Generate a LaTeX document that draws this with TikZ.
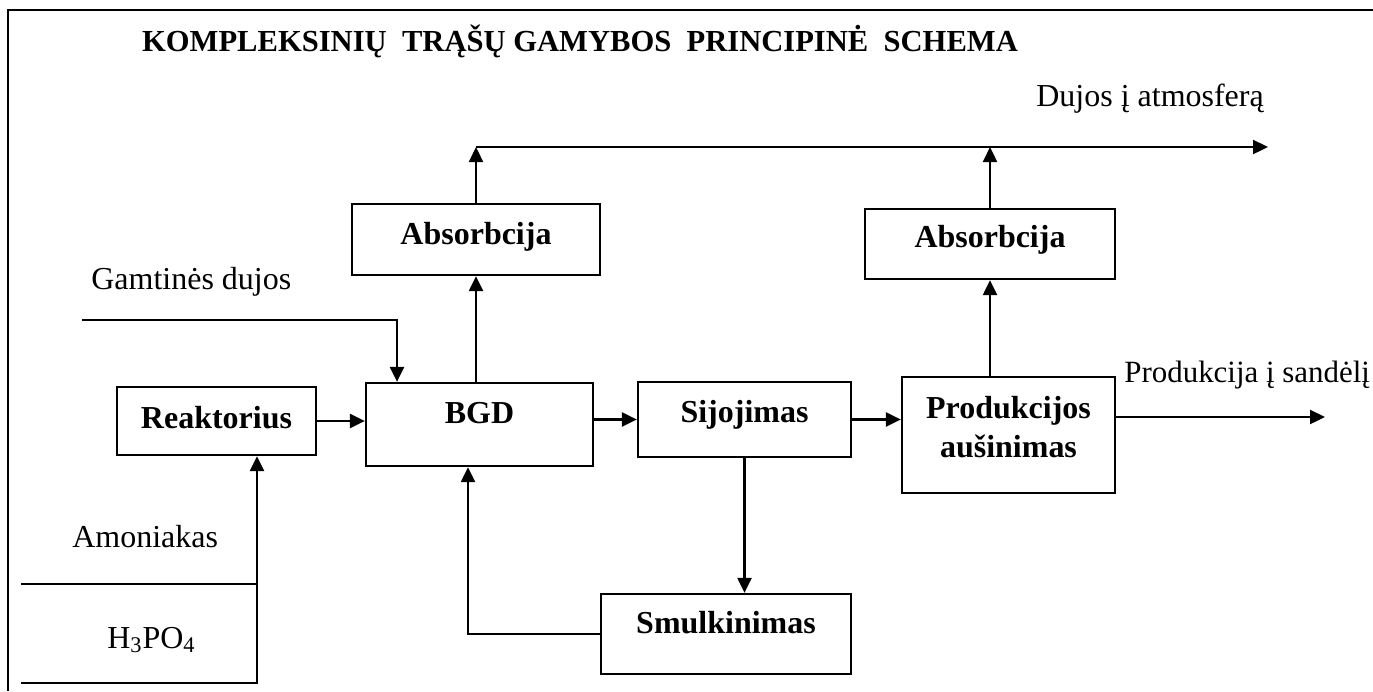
\documentclass[tikz,border=0pt]{standalone}
\usepackage{fontspec}
\setmainfont{Liberation Serif}
\usetikzlibrary{arrows.meta}

\begin{document}
\begin{tikzpicture}[
  every node/.style={
    font=\fontsize{18.2}{22}\selectfont, inner sep=0pt
  },
  unit/.style={
    draw, line width=1.3pt, minimum width=#1
  },
  utitle/.style={
    font=\fontsize{18.2}{22}\selectfont\bfseries, align=center
  },
  flow/.style={
    font=\fontsize{18.2}{22}\selectfont, anchor=base west
  },
  arr/.style={
    -{Triangle[length=3mm, width=2.8mm]}, line width=1.3pt
  },
  pipe/.style={
    line width=1.3pt
  }
]

\useasboundingbox (0,0) rectangle (27.46,-13.82);

% Frame and title
\draw[line width=1.4pt] (0.16,-13.82) -- (0.16,-0.2) -- (27.46,-0.2);
\node[utitle, font=\fontsize{17.4}{21}\selectfont\bfseries, anchor=base] (title) at (11.6,-1.02)
  {KOMPLEKSINIŲ~ TRĄŠŲ GAMYBOS~ PRINCIPINĖ~ SCHEMA};

% Units
\node[unit=3.98cm, minimum height=1.36cm] (reak) at (4.33,-8.42) {};
\node[utitle] (reaktxt) at ([yshift=0.7mm]reak.center) {Reaktorius};

\node[unit=4.54cm, minimum height=1.66cm] (bgd) at (9.59,-8.49) {};
\node[utitle] (bgdtxt) at ([yshift=2.3mm]bgd.center) {BGD};

\node[unit=4.26cm, minimum height=1.5cm] (sij) at (14.89,-8.39) {};
\node[utitle] (sijtxt) at ([yshift=0.9mm]sij.center) {Sijojimas};

\node[unit=4.26cm, minimum height=2.32cm] (prod) at (20.17,-8.7) {};
\node[utitle] (prodtxt) at ([yshift=1.6mm]prod.center) {Produkcijos\\aušinimas};

\node[unit=4.96cm, minimum height=1.42cm] (abs1) at (9.52,-4.79) {};
\node[utitle] (abs1txt) at ([yshift=0.5mm]abs1.center) {Absorbcija};

\node[unit=5cm, minimum height=1.4cm] (abs2) at (19.8,-4.88) {};
\node[utitle] (abs2txt) at ([yshift=0.8mm]abs2.center) {Absorbcija};

\node[unit=5cm, minimum height=1.6cm] (smul) at (14.52,-12.68) {};
\node[utitle] (smultxt) at ([yshift=2.2mm]smul.center) {Smulkinimas};

% Free ends of the streams
\coordinate (atm) at (25.36,-2.94);
\coordinate (gas) at (1.64,-6.4);
\coordinate (gasdrop) at (7.94,-6.4);
\coordinate (amon) at (0.42,-11.68);
\coordinate (acid) at (0.42,-13.66);
\coordinate (join) at (5.14,-13.66);
\coordinate (store) at (26.5,-8.34);

% Stream labels
\node[flow] (atmlbl) at (20.72,-2.12) {Dujos į atmosferą};
\node[flow] (gaslbl) at (1.82,-5.78) {Gamtinės dujos};
\node[flow] (amonlbl) at (1.44,-10.94) {Amoniakas};
\node[flow] (acidlbl) at (2.14,-12.96) {H\textsubscript{3}PO\textsubscript{4}};
\node[flow, font=\fontsize{17.6}{21}\selectfont] (storelbl) at (22.48,-7.64) {Produkcija į sandėlį};

% Main line
\draw[arr] (reak.east) -- (reak.east -| bgd.west);
\draw[arr] (sij.west -| bgd.east) -- (sij.west);
\draw[arr] (sij.east) -- (sij.east -| prod.west);
\draw[arr] (prod.east |- store) -- (store);

% Feeds
\draw[arr] (gas) -- (gasdrop) -- (gasdrop |- bgd.north);
\draw[pipe] (amon) -- (amon -| join);
\draw[arr] (acid) -- (join) -- (join |- reak.south);

% Gases
\draw[arr] (bgd.north -| abs1.south) -- (abs1.south);
\draw[arr] (prod.north -| abs2.south) -- (abs2.south);
\draw[arr] (abs1.north) -- (abs1.north |- atm);
\draw[arr] (abs2.north) -- (abs2.north |- atm);
\draw[arr] (abs1.north |- atm) -- (atm);

% Recycle
\draw[arr] (sij.south) -- (sij.south |- smul.north);
\draw[arr] (smul.west) -| ([xshift=-2.3mm]bgd.south);

\end{tikzpicture}
\end{document}
